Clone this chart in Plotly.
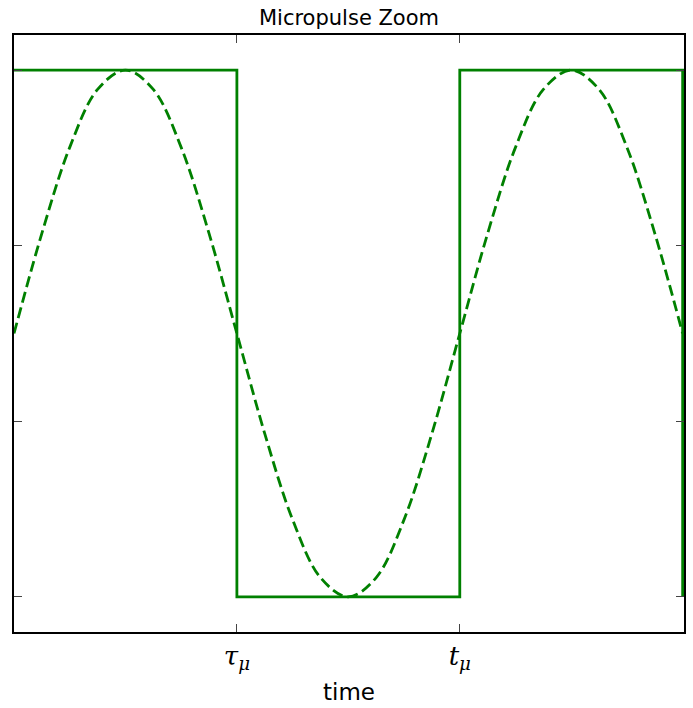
import plotly.graph_objects as go

# time axis in units of the micropulse half-period
square_t = [0.0, 1.0, 2.0, 3.0]
square_level = [1.5, -1.5, 1.5, -1.5]

sine_t = [0.0, 0.125, 0.25, 0.375, 0.5, 0.625, 0.75, 0.875, 1.0,
          1.125, 1.25, 1.375, 1.5, 1.625, 1.75, 1.875, 2.0,
          2.125, 2.25, 2.375, 2.5, 2.625, 2.75, 2.875, 3.0]
sine_level = [0.0, 0.57, 1.06, 1.39, 1.5, 1.39, 1.06, 0.57, 0.0,
              -0.57, -1.06, -1.39, -1.5, -1.39, -1.06, -0.57, 0.0,
              0.57, 1.06, 1.39, 1.5, 1.39, 1.06, 0.57, 0.0]

x_tick_vals = [1.0, 2.0]
x_tick_text = ["<i>τ</i><sub><i>μ</i></sub>", "<i>t</i><sub><i>μ</i></sub>"]
y_tick_vals = [-1.5, -0.5, 0.5, 1.5]

GREEN = "#008000"

fig = go.Figure()
fig.add_trace(go.Scatter(
    x=square_t, y=square_level, mode="lines",
    line=dict(color=GREEN, width=2.8, shape="hv"),
    hoverinfo="skip", showlegend=False,
))
fig.add_trace(go.Scatter(
    x=sine_t, y=sine_level, mode="lines",
    line=dict(color=GREEN, width=2.8, shape="spline", dash="11px,5px"),
    hoverinfo="skip", showlegend=False,
))

fig.update_layout(
    width=693, height=708,
    margin=dict(l=14, r=7, t=35, b=76),
    paper_bgcolor="white", plot_bgcolor="white",
    font=dict(family="DejaVu Sans", color="black"),
    title=dict(text="Micropulse Zoom", x=0.5, xref="paper", xanchor="center",
               y=1 - 18 / 708, yanchor="middle",
               font=dict(size=21, family="DejaVu Sans", color="black")),
    xaxis=dict(
        range=[0, 3.006], showgrid=False, zeroline=False,
        showline=True, linecolor="black", linewidth=1.5, mirror="ticks",
        ticks="inside", ticklen=8, tickwidth=1, tickcolor="#444",
        tickvals=x_tick_vals, ticktext=x_tick_text,
        tickfont=dict(size=26, family="DejaVu Serif"),
        title=dict(text="time", font=dict(size=23), standoff=10),
    ),
    yaxis=dict(
        range=[-1.7, 1.7], showgrid=False, zeroline=False,
        showline=True, linecolor="black", linewidth=1.5, mirror="ticks",
        ticks="inside", ticklen=8, tickwidth=1, tickcolor="#444",
        tickvals=y_tick_vals, showticklabels=False,
    ),
)

fig.write_html("out.html")
